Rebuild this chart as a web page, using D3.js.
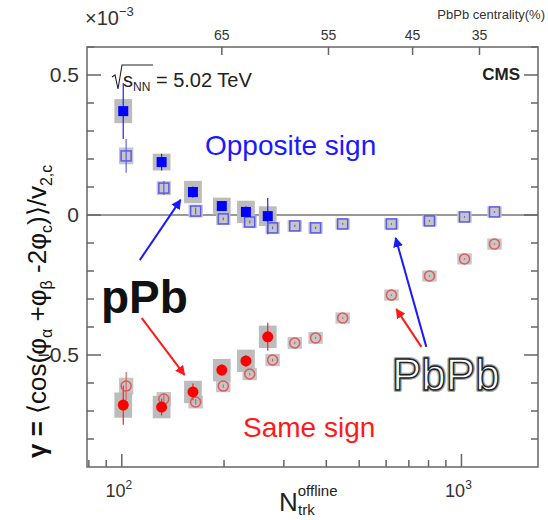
<!DOCTYPE html>
<html>
<head>
<meta charset="utf-8">
<script src="https://cdn.jsdelivr.net/npm/d3@7"></script>
<style>
  html, body { margin: 0; padding: 0; background: #fff; }
  svg { display: block; font-family: "Liberation Sans", Arial, Helvetica, sans-serif; }
</style>
</head>
<body>
<svg id="chart" width="548" height="520"></svg>
<script>
// pPb (filled markers)
const pPbN = [101, 131, 162, 197, 232, 269];
const pPbOpp = [0.371, 0.189, 0.082, 0.032, 0.011, -0.004];
const pPbOppStat = [0.10, 0.03, 0.02, 0.015, 0.02, 0.065];
const pPbOppSys = [0.043, 0.03, 0.04, 0.03, 0.04, 0.035];
const pPbSame = [-0.679, -0.686, -0.632, -0.554, -0.521, -0.435];
const pPbSameStat = [0.07, 0.03, 0.03, 0.02, 0.02, 0.05];
const pPbSameSys = [0.045, 0.04, 0.04, 0.04, 0.04, 0.04];

// PbPb (open markers)
const PbPbN = [103, 133, 165, 199, 238, 278, 323, 372, 447, 622, 805, 1021, 1251];
const PbPbOpp = [0.211, 0.096, 0.014, -0.014, -0.025, -0.046, -0.039, -0.046, -0.032, -0.032, -0.021, -0.007, 0.011];
const PbPbOppStat = [0.06, 0.025, 0.012, 0.005, 0.005, 0.005, 0.004, 0.004, 0.003, 0.003, 0.003, 0.003, 0.003];
const PbPbOppSys = [0.03, 0.025, 0.023, 0.022, 0.022, 0.022, 0.021, 0.021, 0.02, 0.02, 0.02, 0.02, 0.02];
const PbPbSame = [-0.611, -0.657, -0.668, -0.611, -0.568, -0.518, -0.457, -0.439, -0.368, -0.286, -0.218, -0.157, -0.104];
const PbPbSameStat = [0.05, 0.02, 0.01, 0.006, 0.005, 0.005, 0.004, 0.004, 0.003, 0.003, 0.003, 0.003, 0.003];
const PbPbSameSys = [0.03, 0.025, 0.023, 0.022, 0.022, 0.022, 0.021, 0.021, 0.02, 0.02, 0.02, 0.02, 0.02];

// top axis: PbPb centrality classes and their N_trk^offline positions
const centralityLabels = ["65", "55", "45", "35"];
const centralityN = [197, 406, 718, 1130];

// axis ticks
const yMajorTicks = [-0.5, 0, 0.5];
const yTickLabels = ["\u22120.5", "0", "0.5"];
const xMajorTicks = [100, 1000];
const xTickExponents = ["2", "3"];

const svg = d3.select("#chart");
const frame = { left: 87, right: 538, top: 47, bottom: 467 };

const x = d3.scaleLog().domain([79, 1680]).range([frame.left, frame.right]);
const y = d3.scaleLinear().domain([-0.9, 0.6]).range([frame.bottom, frame.top]);

const axisColor = "#666";
const tickTextColor = "#333";

// arrowheads
const defs = svg.append("defs");
[["blueHead", "#1a1aff"], ["redHead", "#ff1a1a"]].forEach(([id, c]) => {
  defs.append("marker").attr("id", id)
    .attr("viewBox", "0 0 10 10").attr("refX", 9).attr("refY", 5)
    .attr("markerWidth", 5).attr("markerHeight", 5).attr("orient", "auto")
    .append("path").attr("d", "M0,0 L10,5 L0,10 Z").attr("fill", c);
});

// zero reference line
svg.append("line")
  .attr("x1", frame.left).attr("x2", frame.right)
  .attr("y1", y(0)).attr("y2", y(0))
  .attr("stroke", "#777").attr("stroke-width", 1.5);

// systematic boxes
function sysBoxes(N, vals, sys, halfFactor, fill) {
  svg.append("g").selectAll("rect").data(N).join("rect")
    .attr("x", (d) => x(d / halfFactor))
    .attr("width", (d) => x(d * halfFactor) - x(d / halfFactor))
    .attr("y", (d, i) => y(vals[i] + sys[i]))
    .attr("height", (d, i) => y(vals[i] - sys[i]) - y(vals[i] + sys[i]))
    .attr("fill", fill);
}
sysBoxes(PbPbN, PbPbOpp, PbPbOppSys, 1.05, "#c6c6c6");
sysBoxes(PbPbN, PbPbSame, PbPbSameSys, 1.05, "#c6c6c6");
sysBoxes(pPbN, pPbOpp, pPbOppSys, 1.062, "#bcbcbc");
sysBoxes(pPbN, pPbSame, pPbSameSys, 1.062, "#bcbcbc");

// statistical error bars
function statBars(N, vals, stat, color) {
  svg.append("g").selectAll("line").data(N).join("line")
    .attr("x1", (d) => x(d)).attr("x2", (d) => x(d))
    .attr("y1", (d, i) => y(vals[i] + stat[i]))
    .attr("y2", (d, i) => y(vals[i] - stat[i]))
    .attr("stroke", color).attr("stroke-width", 1.2);
}
statBars(PbPbN, PbPbOpp, PbPbOppStat, "#6060f0");
statBars(PbPbN, PbPbSame, PbPbSameStat, "#e06060");
statBars(pPbN, pPbOpp, pPbOppStat, "#2020ff");
statBars(pPbN, pPbSame, pPbSameStat, "#ff2020");

// PbPb open markers
svg.append("g").selectAll("rect").data(PbPbN).join("rect")
  .attr("x", (d) => x(d) - 5).attr("y", (d, i) => y(PbPbOpp[i]) - 5)
  .attr("width", 10).attr("height", 10)
  .attr("fill", "none").attr("stroke", "#5a5af0").attr("stroke-width", 1.5);
svg.append("g").selectAll("circle").data(PbPbN).join("circle")
  .attr("cx", (d) => x(d)).attr("cy", (d, i) => y(PbPbSame[i]))
  .attr("r", 5)
  .attr("fill", "none").attr("stroke", "#e05a5a").attr("stroke-width", 1.5);

// pPb filled markers
svg.append("g").selectAll("rect").data(pPbN).join("rect")
  .attr("x", (d) => x(d) - 5).attr("y", (d, i) => y(pPbOpp[i]) - 5)
  .attr("width", 10).attr("height", 10)
  .attr("fill", "#0000ff");
svg.append("g").selectAll("circle").data(pPbN).join("circle")
  .attr("cx", (d) => x(d)).attr("cy", (d, i) => y(pPbSame[i]))
  .attr("r", 5.5)
  .attr("fill", "#ff0000");

// frame
svg.append("rect")
  .attr("x", frame.left).attr("y", frame.top)
  .attr("width", frame.right - frame.left).attr("height", frame.bottom - frame.top)
  .attr("fill", "none").attr("stroke", axisColor).attr("stroke-width", 1.5);

// y ticks (left and right, pointing inward)
const yMinor = d3.range(-0.8, 0.6001, 0.1).filter((v) => !yMajorTicks.some((m) => Math.abs(m - v) < 1e-6));
const yTicksG = svg.append("g").attr("stroke", axisColor).attr("stroke-width", 1.5);
yMajorTicks.forEach((v) => {
  yTicksG.append("line").attr("x1", frame.left).attr("x2", frame.left + 14).attr("y1", y(v)).attr("y2", y(v));
  yTicksG.append("line").attr("x1", frame.right).attr("x2", frame.right - 14).attr("y1", y(v)).attr("y2", y(v));
});
yMinor.forEach((v) => {
  yTicksG.append("line").attr("x1", frame.left).attr("x2", frame.left + 7).attr("y1", y(v)).attr("y2", y(v));
  yTicksG.append("line").attr("x1", frame.right).attr("x2", frame.right - 7).attr("y1", y(v)).attr("y2", y(v));
});

// x ticks (bottom, log)
const xMinor = [80, 90, 200, 300, 400, 500, 600, 700, 800, 900];
const xTicksG = svg.append("g").attr("stroke", axisColor).attr("stroke-width", 1.5);
xMajorTicks.forEach((v) => {
  xTicksG.append("line").attr("x1", x(v)).attr("x2", x(v)).attr("y1", frame.bottom).attr("y2", frame.bottom - 13);
});
xMinor.forEach((v) => {
  xTicksG.append("line").attr("x1", x(v)).attr("x2", x(v)).attr("y1", frame.bottom).attr("y2", frame.bottom - 7);
});
const xLab = svg.append("g").selectAll("text").data(xMajorTicks).join("text")
  .attr("x", (d) => x(d) - 3).attr("y", 497)
  .attr("text-anchor", "middle").attr("font-size", 18).attr("fill", tickTextColor);
xLab.append("tspan").text("10");
xLab.append("tspan").attr("font-size", 12).attr("dy", -8).text((d, i) => xTickExponents[i]);

// top axis: centrality
const topG = svg.append("g");
topG.selectAll("line").data(centralityN).join("line")
  .attr("x1", (d) => x(d)).attr("x2", (d) => x(d))
  .attr("y1", frame.top).attr("y2", frame.top + 8)
  .attr("stroke", axisColor).attr("stroke-width", 1.5);
topG.selectAll("text").data(centralityN).join("text")
  .attr("x", (d) => x(d)).attr("y", 40)
  .attr("text-anchor", "middle").attr("font-size", 14).attr("fill", tickTextColor)
  .text((d, i) => centralityLabels[i]);
svg.append("text").attr("x", 545).attr("y", 19).attr("text-anchor", "end")
  .attr("font-size", 13).attr("fill", tickTextColor).text("PbPb centrality(%)");

// exponent of the y axis
const expo = svg.append("text").attr("x", 85).attr("y", 25)
  .attr("font-size", 20).attr("fill", tickTextColor);
expo.append("tspan").text("\u00d710");
expo.append("tspan").attr("font-size", 13).attr("dy", -9).text("\u22123");

// sqrt(s_NN) label
svg.append("path").attr("d", "M112,77 L115,75 L118,89 L122,65 L153,65")
  .attr("fill", "none").attr("stroke", "#222").attr("stroke-width", 1.1);
const sq = svg.append("text").attr("x", 123).attr("y", 87)
  .attr("font-size", 20).attr("fill", "#222");
sq.append("tspan").text("s");
sq.append("tspan").attr("font-size", 12).attr("dy", 4).text("NN");
sq.append("tspan").attr("dy", -4).text(" = 5.02 TeV");

svg.append("text").attr("x", 520).attr("y", 80).attr("text-anchor", "end")
  .attr("font-size", 17).attr("font-weight", "bold").attr("fill", "#222").text("CMS");

// series labels
svg.append("text").attr("x", 205).attr("y", 155)
  .attr("font-size", 28).attr("fill", "#1a1aff").text("Opposite sign");
svg.append("text").attr("x", 243).attr("y", 437)
  .attr("font-size", 28).attr("fill", "#ff1a1a").text("Same sign");
svg.append("text").attr("x", 101).attr("y", 313)
  .attr("font-size", 46).attr("font-weight", "bold").attr("fill", "#111").text("pPb");
svg.append("text").attr("x", 392).attr("y", 390)
  .attr("font-size", 44).attr("fill", "#fff")
  .attr("stroke", "#aaa").attr("stroke-width", 4).attr("stroke-linejoin", "round").text("PbPb");
svg.append("text").attr("x", 392).attr("y", 390)
  .attr("font-size", 44).attr("fill", "#fff")
  .attr("stroke", "#222").attr("stroke-width", 1.4).attr("stroke-linejoin", "round").text("PbPb");

// arrows (data coordinates: N, value)
const arrows = [
  { from: [113, -0.161], to: [149, 0.054], head: "blueHead", color: "#1a1aff" },
  { from: [114.5, -0.368], to: [153, -0.571], head: "redHead", color: "#ff1a1a" },
  { from: [788, -0.471], to: [640, -0.082], head: "blueHead", color: "#1a1aff" },
  { from: [762, -0.471], to: [643, -0.336], head: "redHead", color: "#ff1a1a" },
];
svg.append("g").selectAll("line").data(arrows).join("line")
  .attr("x1", (d) => x(d.from[0])).attr("y1", (d) => y(d.from[1]))
  .attr("x2", (d) => x(d.to[0])).attr("y2", (d) => y(d.to[1]))
  .attr("stroke", (d) => d.color).attr("stroke-width", 2)
  .attr("marker-end", (d) => `url(#${d.head})`);

// y axis title
const yt = svg.append("text")
  .attr("transform", "translate(46,458) rotate(-90)")
  .attr("font-size", 26).attr("fill", "#111");
yt.append("tspan").attr("font-weight", "bold").text("\u03b3 = ");
yt.append("tspan").text("\u27e8cos(\u03c6");
yt.append("tspan").attr("font-size", 16).attr("dy", 6).text("\u03b1");
yt.append("tspan").attr("dy", -6).text(" +\u03c6");
yt.append("tspan").attr("font-size", 16).attr("dy", 6).text("\u03b2");
yt.append("tspan").attr("dy", -6).text(" -2\u03c6");
yt.append("tspan").attr("font-size", 16).attr("dy", 6).text("c");
yt.append("tspan").attr("dy", -6).text(")\u27e9/v");
yt.append("tspan").attr("font-size", 16).attr("dy", 6).text("2,c");

// y tick labels (drawn over the title, as they overlap it)
svg.append("g").selectAll("text").data(yMajorTicks).join("text")
  .attr("x", frame.left - 8).attr("y", (d) => y(d) + 7)
  .attr("text-anchor", "end").attr("font-size", 21).attr("fill", tickTextColor)
  .text((d, i) => yTickLabels[i]);

// x axis title
const xt = svg.append("text").attr("x", 279).attr("y", 511)
  .attr("font-size", 26).attr("fill", "#222");
xt.append("tspan").text("N");
xt.append("tspan").attr("font-size", 15).attr("dy", -15).text("offline");
xt.append("tspan").attr("font-size", 15).attr("x", 298).attr("dy", 19).text("trk");
</script>
</body>
</html>
